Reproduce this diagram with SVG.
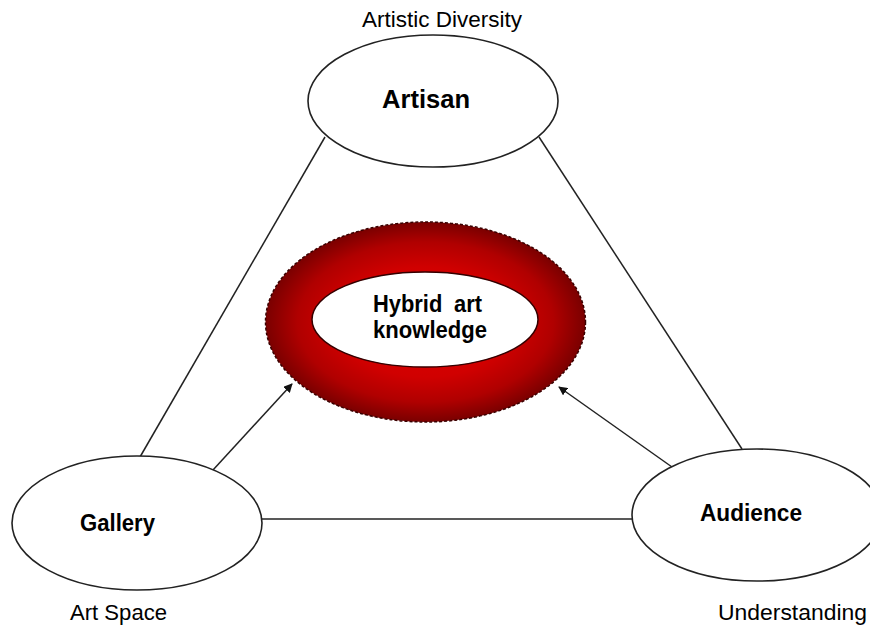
<svg xmlns="http://www.w3.org/2000/svg" width="870" height="626" viewBox="0 0 870 626">
<style>
.node{fill:#fff;stroke:#222;stroke-width:1.6}
.lbl{font-family:"Liberation Sans",Arial,sans-serif;font-size:22px;fill:#000;text-anchor:middle}
.b{font-weight:bold;font-size:23px}
.con{stroke:#222;stroke-width:1.5;fill:none}
</style>
<defs>
<radialGradient id="ringGrad" cx="0.5" cy="0.5" r="0.5">
<stop offset="0" stop-color="#e00000"/>
<stop offset="0.55" stop-color="#d00000"/>
<stop offset="0.8" stop-color="#b00000"/>
<stop offset="1" stop-color="#7a0000"/>
</radialGradient>
<marker id="arr" viewBox="0 0 10 10" refX="9" refY="5" markerWidth="9" markerHeight="9" markerUnits="userSpaceOnUse" orient="auto">
<path d="M0,0 L10,5 L0,10 z" fill="#111"/>
</marker>
</defs>
<rect width="870" height="626" fill="#fff"/>
<g id="connectors">
<line class="con" x1="325" y1="137" x2="140" y2="457"/>
<line class="con" x1="539" y1="137" x2="742" y2="449"/>
<line class="con" x1="262" y1="519" x2="632" y2="519"/>
<line class="con" x1="213" y1="470" x2="292" y2="384" marker-end="url(#arr)"/>
<line class="con" x1="672" y1="467" x2="559" y2="387" marker-end="url(#arr)"/>
</g>
<g id="hybrid">
<ellipse cx="425.5" cy="322" rx="160" ry="100" fill="url(#ringGrad)" stroke="#3a0000" stroke-width="1.5" stroke-dasharray="3,2"/>
<ellipse cx="425" cy="319.5" rx="113" ry="47.5" fill="#fff" stroke="#300" stroke-width="1.5"/>
<text class="lbl b" x="427.5" y="312" textLength="109" lengthAdjust="spacingAndGlyphs" word-spacing="6">Hybrid art</text>
<text class="lbl b" x="430" y="338" textLength="114" lengthAdjust="spacingAndGlyphs">knowledge</text>
</g>
<g id="artisan">
<ellipse class="node" cx="433" cy="101" rx="125" ry="66"/>
<text class="lbl b" x="426" y="108" style="font-size:25px" textLength="88" lengthAdjust="spacingAndGlyphs">Artisan</text>
<text class="lbl" x="442" y="27" textLength="160" lengthAdjust="spacingAndGlyphs">Artistic Diversity</text>
</g>
<g id="gallery">
<ellipse class="node" cx="137" cy="523" rx="125" ry="67"/>
<text class="lbl b" x="117.5" y="531" textLength="75" lengthAdjust="spacingAndGlyphs">Gallery</text>
<text class="lbl" x="118.5" y="620" textLength="97" lengthAdjust="spacingAndGlyphs">Art Space</text>
</g>
<g id="audience">
<ellipse class="node" cx="757" cy="515" rx="125" ry="66"/>
<text class="lbl b" x="751" y="521" textLength="102" lengthAdjust="spacingAndGlyphs">Audience</text>
<text class="lbl" x="792.5" y="620" textLength="149" lengthAdjust="spacingAndGlyphs">Understanding</text>
</g>
</svg>
